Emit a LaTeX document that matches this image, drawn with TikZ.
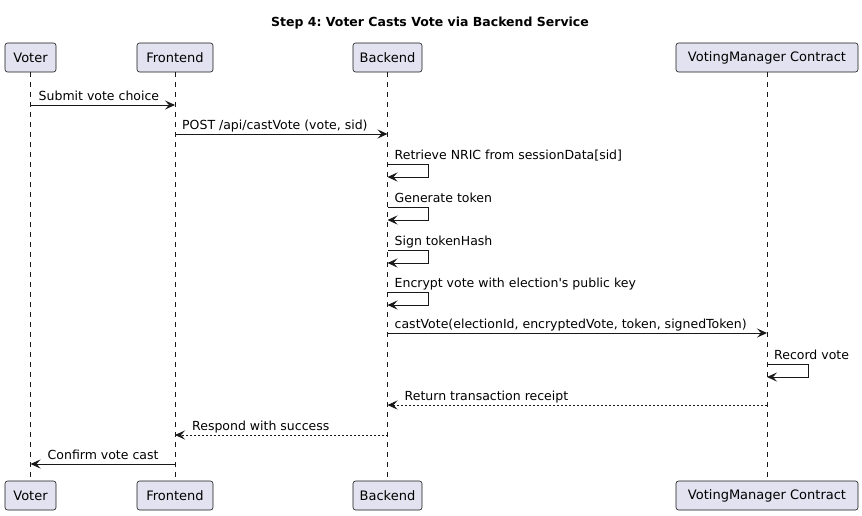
\documentclass[tikz,border=0pt]{standalone}
\usepackage{fontspec}
\setmainfont{DejaVu Sans}[Ligatures=TeXOff]
\usetikzlibrary{arrows.meta,calc}
\definecolor{partfill}{HTML}{E2E2F0}
\definecolor{lineclr}{HTML}{181818}
\tikzset{
  part/.style={draw=lineclr, fill=partfill, rounded corners=2.5pt, line width=0.6pt,
    minimum height=29pt, inner xsep=6pt, font=\fontsize{13}{15}\selectfont, text=black},
  life/.style={draw=lineclr, line width=0.5pt, dash pattern=on 5pt off 5pt},
  msg/.style={draw=lineclr, line width=0.8pt, -{Stealth[length=10pt,width=9pt,inset=4pt]}},
  ret/.style={msg, dash pattern=on 2pt off 2pt},
  lbl/.style={font=\fontsize{12.5}{15}\selectfont, inner sep=0pt, anchor=base west},
  ttl/.style={font=\bfseries\fontsize{12.5}{15}\selectfont, inner sep=0pt}
}
\begin{document}
\frenchspacing
\begin{tikzpicture}[x=1pt,y=-1pt]
\useasboundingbox (0,0) rectangle (862,515);
\node[ttl] (title) at (430,23) {Step 4: Voter Casts Vote via Backend Service};
% participants
\node[part, minimum width=51pt] (vT) at (30.5,57.5) {Voter};
\node[part, minimum width=76pt] (fT) at (175,57.5) {Frontend};
\node[part, minimum width=69pt] (bT) at (387.5,57.5) {Backend};
\node[part, minimum width=182pt] (mT) at (767,57.5) {VotingManager Contract};
\node[part, minimum width=51pt] (vB) at (30.5,495.5) {Voter};
\node[part, minimum width=76pt] (fB) at (175,495.5) {Frontend};
\node[part, minimum width=69pt] (bB) at (387.5,495.5) {Backend};
\node[part, minimum width=182pt] (mB) at (767,495.5) {VotingManager Contract};
% lifelines
\draw[life] (vT) -- (vB);
\draw[life] (fT) -- (fB);
\draw[life] (bT) -- (bB);
\draw[life] (mT) -- (mB);
% message rows
\coordinate (y1) at (0,105);
\coordinate (y2) at (0,134);
\coordinate (y3) at (0,164);
\coordinate (y3b) at (0,177);
\coordinate (y4) at (0,207);
\coordinate (y4b) at (0,220);
\coordinate (y5) at (0,250);
\coordinate (y5b) at (0,263);
\coordinate (y6) at (0,292);
\coordinate (y6b) at (0,305);
\coordinate (y7) at (0,333);
\coordinate (y8) at (0,364);
\coordinate (y8b) at (0,377);
\coordinate (y9) at (0,405);
\coordinate (y10) at (0,435);
\coordinate (y11) at (0,464);
% 1
\draw[msg] (vT |- y1) -- (fT |- y1);
\node[lbl] (l1) at ($(vT |- y1)+(8,-5)$) {Submit vote choice};
% 2
\draw[msg] (fT |- y2) -- (bT |- y2);
\node[lbl] (l2) at ($(fT |- y2)+(7,-5)$) {POST /api/castVote (vote, sid)};
% self messages on backend
\draw[msg] (bT |- y3) -- ++(41,0) |- (bT |- y3b);
\node[lbl] (l3) at ($(bT |- y3)+(7,-5)$) {Retrieve NRIC from sessionData[sid]};
\draw[msg] (bT |- y4) -- ++(41,0) |- (bT |- y4b);
\node[lbl] (l4) at ($(bT |- y4)+(7,-5)$) {Generate token};
\draw[msg] (bT |- y5) -- ++(41,0) |- (bT |- y5b);
\node[lbl] (l5) at ($(bT |- y5)+(7,-5)$) {Sign tokenHash};
\draw[msg] (bT |- y6) -- ++(41,0) |- (bT |- y6b);
\node[lbl] (l6) at ($(bT |- y6)+(7,-5)$) {Encrypt vote with election's public key};
% 7
\draw[msg] (bT |- y7) -- (mT |- y7);
\node[lbl] (l7) at ($(bT |- y7)+(7,-5)$) {castVote(electionId, encryptedVote, token, signedToken)};
% 8
\draw[msg] (mT |- y8) -- ++(41,0) |- (mT |- y8b);
\node[lbl] (l8) at ($(mT |- y8)+(7,-5)$) {Record vote};
% 9
\draw[ret] (mT |- y9) -- (bT |- y9);
\node[lbl] (l9) at ($(bT |- y9)+(17,-5)$) {Return transaction receipt};
% 10
\draw[ret] (bT |- y10) -- (fT |- y10);
\node[lbl] (l10) at ($(fT |- y10)+(17,-5)$) {Respond with success};
% 11
\draw[msg] (fT |- y11) -- (vT |- y11);
\node[lbl] (l11) at ($(vT |- y11)+(17,-5)$) {Confirm vote cast};
\end{tikzpicture}
\end{document}
